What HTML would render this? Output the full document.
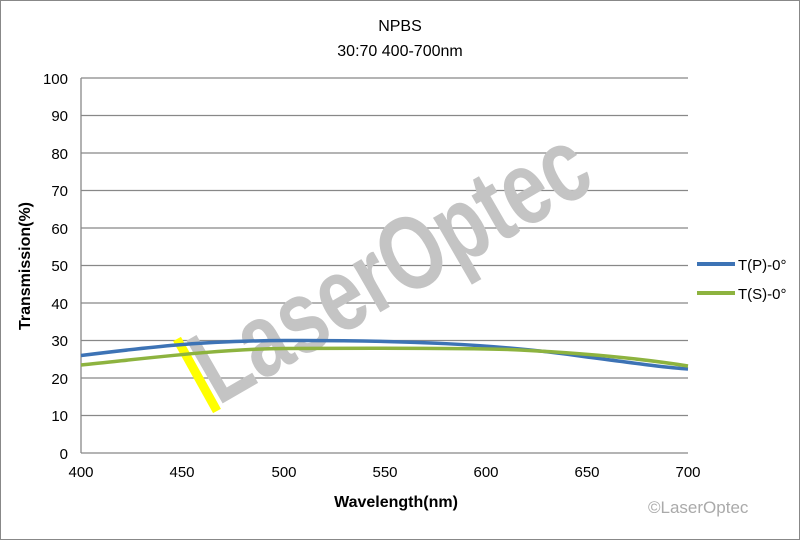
<!DOCTYPE html>
<html><head><style>body{margin:0;background:#fff}svg{display:block}</style></head><body>
<svg width="800" height="540" xmlns="http://www.w3.org/2000/svg" font-family="Liberation Sans, sans-serif">
<rect x="0.5" y="0.5" width="799" height="539" fill="#fff" stroke="#888"/>
<text x="400" y="31" text-anchor="middle" font-size="16">NPBS</text>
<text x="400" y="56" text-anchor="middle" font-size="16">30:70  400-700nm</text>
<g stroke="#888" stroke-width="1.3">
<line x1="81" y1="78" x2="688" y2="78"/><line x1="81" y1="115.5" x2="688" y2="115.5"/><line x1="81" y1="153" x2="688" y2="153"/><line x1="81" y1="190.5" x2="688" y2="190.5"/><line x1="81" y1="228" x2="688" y2="228"/><line x1="81" y1="265.5" x2="688" y2="265.5"/><line x1="81" y1="303" x2="688" y2="303"/><line x1="81" y1="340.5" x2="688" y2="340.5"/><line x1="81" y1="378" x2="688" y2="378"/><line x1="81" y1="415.5" x2="688" y2="415.5"/><line x1="81" y1="453" x2="688" y2="453"/>
<line x1="81" y1="78" x2="81" y2="453"/>
</g>
<g font-size="15" text-anchor="end">
<text x="68" y="84">100</text><text x="68" y="121">90</text><text x="68" y="159">80</text><text x="68" y="196">70</text><text x="68" y="234">60</text><text x="68" y="271">50</text><text x="68" y="309">40</text><text x="68" y="346">30</text><text x="68" y="384">20</text><text x="68" y="421">10</text><text x="68" y="459">0</text>
</g>
<g font-size="15" text-anchor="middle">
<text x="81" y="477">400</text><text x="182" y="477">450</text><text x="284" y="477">500</text><text x="385" y="477">550</text><text x="486" y="477">600</text><text x="587" y="477">650</text><text x="688" y="477">700</text>
</g>
<text x="396" y="507" text-anchor="middle" font-size="16" font-weight="bold">Wavelength(nm)</text>
<text transform="translate(30,266) rotate(-90)" text-anchor="middle" font-size="16" font-weight="bold">Transmission(%)</text>
<g transform="translate(218,406) rotate(-30)">
<text x="0" y="0" font-size="105" font-weight="bold" fill="#c4c4c4" transform="scale(0.76,1)">LaserOptec</text>
</g>
<line x1="177" y1="339" x2="217" y2="411" stroke="#ffff00" stroke-width="9"/>
<path d="M81,355.5 C150,347 200,341 284,340.5 C400,340 500,344 587,357 C640,364 670,368 688,369" fill="none" stroke="#3d73b5" stroke-width="3.5"/>
<path d="M81,365 C150,358 220,349 284,348.5 C400,348 480,348 520,350 C600,354 650,360 688,366" fill="none" stroke="#8db33f" stroke-width="3.5"/>
<line x1="697" y1="264" x2="735" y2="264" stroke="#3d73b5" stroke-width="4"/>
<text x="738" y="270" font-size="15">T(P)-0°</text>
<line x1="697" y1="293" x2="735" y2="293" stroke="#8db33f" stroke-width="4"/>
<text x="738" y="299" font-size="15">T(S)-0°</text>
<text x="648" y="513" font-size="17" fill="#aaa">©LaserOptec</text>
</svg>
</body></html>
